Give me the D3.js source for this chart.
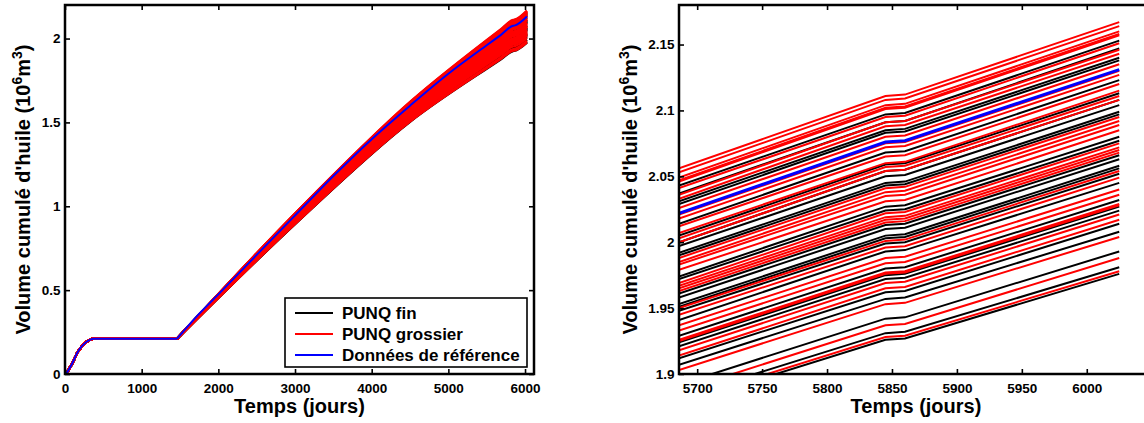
<!DOCTYPE html>
<html>
<head>
<meta charset="utf-8">
<script src="https://cdn.jsdelivr.net/npm/d3@7"></script>
<style>
  body { margin: 0; background: #fff; }
  svg { display: block; }
  text { font-family: "Liberation Sans", Arial, sans-serif; font-weight: bold; }
</style>
</head>
<body>
<div id="chart"></div>
<script>
// Shared start of every run (days, 10^6 m3)
var earlyTimes = [0, 30, 60, 90, 120, 150, 180, 210, 240, 270, 300, 330, 365, 1460];
var earlyVol = [0, 0.012, 0.035, 0.06, 0.088, 0.118, 0.142, 0.16, 0.175, 0.188, 0.198, 0.205, 0.21, 0.21];

// Reference data after the plateau
var refTimes = [1700, 2000, 2500, 3000, 3500, 4000, 4500, 5000, 5500, 5686, 5845, 5860, 6025];
var refVol = [0.335, 0.475, 0.71, 0.945, 1.18, 1.40, 1.60, 1.79, 1.96, 2.022, 2.076, 2.077, 2.131];

// Ensemble runs, values at these days
var runTimes = [3000, 4500, 5686, 5845, 5860, 6025];

var fineRuns = [
  [0.952, 1.614, 2.043, 2.097, 2.098, 2.153],
  [0.950, 1.610, 2.037, 2.091, 2.092, 2.147],
  [0.948, 1.606, 2.031, 2.085, 2.086, 2.140],
  [0.947, 1.604, 2.029, 2.083, 2.084, 2.138],
  [0.942, 1.595, 2.014, 2.068, 2.069, 2.123],
  [0.939, 1.589, 2.005, 2.059, 2.060, 2.113],
  [0.937, 1.586, 2.000, 2.054, 2.055, 2.108],
  [0.936, 1.583, 1.997, 2.050, 2.051, 2.104],
  [0.934, 1.580, 1.992, 2.045, 2.046, 2.099],
  [0.934, 1.579, 1.990, 2.043, 2.044, 2.097],
  [0.928, 1.568, 1.974, 2.027, 2.028, 2.080],
  [0.927, 1.567, 1.972, 2.024, 2.025, 2.077],
  [0.924, 1.560, 1.961, 2.013, 2.014, 2.066],
  [0.923, 1.558, 1.958, 2.010, 2.011, 2.063],
  [0.921, 1.555, 1.953, 2.005, 2.006, 2.058],
  [0.920, 1.554, 1.951, 2.003, 2.004, 2.056],
  [0.919, 1.551, 1.948, 1.999, 2.000, 2.052],
  [0.917, 1.547, 1.941, 1.993, 1.994, 2.045],
  [0.912, 1.539, 1.929, 1.980, 1.981, 2.032],
  [0.911, 1.536, 1.924, 1.975, 1.976, 2.027],
  [0.910, 1.534, 1.921, 1.972, 1.973, 2.024],
  [0.906, 1.527, 1.912, 1.962, 1.963, 2.014],
  [0.904, 1.524, 1.907, 1.957, 1.958, 2.008],
  [0.899, 1.514, 1.892, 1.942, 1.943, 1.993],
  [0.895, 1.507, 1.882, 1.931, 1.932, 1.981],
  [0.894, 1.504, 1.877, 1.926, 1.927, 1.976]
];

var coarseRuns = [
  [0.957, 1.622, 2.056, 2.111, 2.112, 2.167],
  [0.956, 1.620, 2.053, 2.108, 2.109, 2.164],
  [0.955, 1.618, 2.049, 2.104, 2.105, 2.160],
  [0.954, 1.617, 2.047, 2.102, 2.103, 2.158],
  [0.954, 1.616, 2.046, 2.101, 2.102, 2.157],
  [0.952, 1.612, 2.041, 2.095, 2.096, 2.151],
  [0.950, 1.609, 2.036, 2.091, 2.092, 2.146],
  [0.949, 1.607, 2.033, 2.088, 2.089, 2.143],
  [0.946, 1.602, 2.026, 2.080, 2.081, 2.135],
  [0.945, 1.599, 2.021, 2.075, 2.076, 2.130],
  [0.944, 1.598, 2.018, 2.072, 2.073, 2.127],
  [0.941, 1.593, 2.012, 2.065, 2.066, 2.120],
  [0.940, 1.590, 2.007, 2.060, 2.061, 2.115],
  [0.938, 1.588, 2.003, 2.057, 2.058, 2.111],
  [0.937, 1.586, 2.000, 2.054, 2.055, 2.108],
  [0.933, 1.578, 1.988, 2.041, 2.042, 2.095],
  [0.932, 1.576, 1.985, 2.038, 2.039, 2.092],
  [0.931, 1.574, 1.983, 2.035, 2.036, 2.089],
  [0.930, 1.571, 1.979, 2.031, 2.032, 2.085],
  [0.927, 1.565, 1.969, 2.022, 2.023, 2.075],
  [0.926, 1.563, 1.967, 2.019, 2.020, 2.072],
  [0.925, 1.562, 1.965, 2.017, 2.018, 2.070],
  [0.924, 1.561, 1.963, 2.015, 2.016, 2.068],
  [0.920, 1.552, 1.950, 2.001, 2.002, 2.054],
  [0.918, 1.549, 1.945, 1.996, 1.997, 2.049],
  [0.915, 1.544, 1.937, 1.988, 1.989, 2.040],
  [0.914, 1.541, 1.933, 1.984, 1.985, 2.036],
  [0.911, 1.537, 1.926, 1.977, 1.978, 2.029],
  [0.911, 1.536, 1.925, 1.976, 1.977, 2.028],
  [0.909, 1.532, 1.918, 1.969, 1.970, 2.021],
  [0.907, 1.529, 1.914, 1.965, 1.966, 2.017],
  [0.903, 1.521, 1.903, 1.953, 1.954, 2.004],
  [0.898, 1.511, 1.887, 1.937, 1.938, 1.988],
  [0.895, 1.505, 1.879, 1.928, 1.929, 1.978]
];

// Axes
var leftXTicks = [0, 1000, 2000, 3000, 4000, 5000, 6000];
var leftYTicks = [0, 0.5, 1, 1.5, 2];
var rightXTicks = [5700, 5750, 5800, 5850, 5900, 5950, 6000];
var rightYTicks = [1.9, 1.95, 2, 2.05, 2.1, 2.15];
var legendLabels = ["PUNQ fin", "PUNQ grossier", "Données de référence"];

var svgWidth = 1144;
var svgHeight = 423;

var svg = d3.select("#chart")
  .append("svg")
  .attr("width", svgWidth)
  .attr("height", svgHeight);

// point lists: plateau part and production part (from day 1460)
var earlyPoints = earlyTimes.map(function (t, i) { return [t, earlyVol[i]]; });
var startPoint = earlyPoints[earlyPoints.length - 1];
function runLate(run) {
  return [startPoint].concat(runTimes.map(function (t, i) { return [t, run[i]]; }));
}
var refLate = [startPoint].concat(refTimes.map(function (t, i) { return [t, refVol[i]]; }));

function drawPanel(p) {
  var x = d3.scaleLinear().domain(p.xDomain).range([p.left, p.right]);
  var y = d3.scaleLinear().domain(p.yDomain).range([p.bottom, p.top]);

  svg.append("clipPath").attr("id", p.id)
    .append("rect")
    .attr("x", p.left).attr("y", p.top)
    .attr("width", p.right - p.left).attr("height", p.bottom - p.top);

  var lineLin = d3.line().x(function (d) { return x(d[0]); }).y(function (d) { return y(d[1]); });
  var lineLate = d3.line().x(function (d) { return x(d[0]); }).y(function (d) { return y(d[1]); })
    .curve(p.smooth ? d3.curveMonotoneX : d3.curveLinear);
  function pathOf(late) { return lineLin(earlyPoints) + lineLate(late); }

  var g = svg.append("g").attr("clip-path", "url(#" + p.id + ")");

  g.selectAll(".fine").data(fineRuns).enter().append("path")
    .attr("d", function (d) { return pathOf(runLate(d)); })
    .attr("fill", "none").attr("stroke", "#000").attr("stroke-width", p.runWidth);

  g.selectAll(".coarse").data(coarseRuns).enter().append("path")
    .attr("d", function (d) { return pathOf(runLate(d)); })
    .attr("fill", "none").attr("stroke", "#ff0000").attr("stroke-width", p.runWidth);

  g.append("path")
    .attr("d", pathOf(refLate))
    .attr("fill", "none").attr("stroke", "#0000ff").attr("stroke-width", p.refWidth);

  var fmt = d3.format("~g");

  var bottom = svg.append("g")
    .attr("transform", "translate(0," + p.bottom + ")")
    .call(d3.axisBottom(x).tickValues(p.xTicks).tickSizeInner(-5).tickSizeOuter(0).tickPadding(9).tickFormat(fmt));
  var leftAx = svg.append("g")
    .attr("transform", "translate(" + p.left + ",0)")
    .call(d3.axisLeft(y).tickValues(p.yTicks).tickSizeInner(-5).tickSizeOuter(0).tickPadding(4.5).tickFormat(fmt));
  var topAx = svg.append("g")
    .attr("transform", "translate(0," + p.top + ")")
    .call(d3.axisTop(x).tickValues(p.xTicks).tickSizeInner(-5).tickSizeOuter(0).tickFormat(""));
  var rightAx = svg.append("g")
    .attr("transform", "translate(" + p.right + ",0)")
    .call(d3.axisRight(y).tickValues(p.yTicks).tickSizeInner(-5).tickSizeOuter(0).tickFormat(""));

  [bottom, leftAx, topAx, rightAx].forEach(function (a) {
    a.select(".domain").remove();
    a.selectAll("line").attr("stroke", "#000").attr("stroke-width", 1.6);
    a.selectAll("text")
      .attr("fill", "#000")
      .style("font-family", "'Liberation Sans', Arial, sans-serif")
      .style("font-weight", "bold")
      .style("font-size", "13.5px");
  });

  // box
  svg.append("rect")
    .attr("x", p.left).attr("y", p.top)
    .attr("width", p.right - p.left).attr("height", p.bottom - p.top)
    .attr("fill", "none").attr("stroke", "#000").attr("stroke-width", 2.5);

  // x label
  svg.append("text")
    .attr("x", (p.left + p.right) / 2)
    .attr("y", 413)
    .attr("text-anchor", "middle")
    .style("font-size", "20px")
    .text("Temps (jours)");

  // y label
  var yl = svg.append("text")
    .attr("transform", "translate(" + p.yLabelX + "," + ((p.top + p.bottom) / 2) + ") rotate(-90)")
    .attr("text-anchor", "middle")
    .style("font-size", "20px");
  yl.append("tspan").text("Volume cumulé d'huile (10");
  yl.append("tspan").attr("dy", -8).style("font-size", "14px").text("6");
  yl.append("tspan").attr("dy", 8).text("m");
  yl.append("tspan").attr("dy", -8).style("font-size", "14px").text("3");
  yl.append("tspan").attr("dy", 8).text(")");
}

drawPanel({
  id: "clipLeft", left: 65, right: 534, top: 5, bottom: 374,
  xDomain: [0, 6117], yDomain: [0, 2.2], smooth: true,
  xTicks: leftXTicks, yTicks: leftYTicks, yLabelX: 30, runWidth: 2.4, refWidth: 2
});

drawPanel({
  id: "clipRight", left: 679, right: 1153, top: 5, bottom: 374,
  xDomain: [5686, 6051], yDomain: [1.9, 2.18], smooth: false,
  xTicks: rightXTicks, yTicks: rightYTicks, yLabelX: 637, runWidth: 2, refWidth: 3
});

// legend
var legend = svg.append("g");
legend.append("rect")
  .attr("x", 285).attr("y", 298)
  .attr("width", 242).attr("height", 69)
  .attr("fill", "#fff").attr("stroke", "#000").attr("stroke-width", 1.6);

var legendColors = ["#000", "#ff0000", "#0000ff"];
legendLabels.forEach(function (label, i) {
  var cy = 313 + i * 21;
  legend.append("line")
    .attr("x1", 295).attr("x2", 333)
    .attr("y1", cy).attr("y2", cy)
    .attr("stroke", legendColors[i]).attr("stroke-width", 2);
  legend.append("text")
    .attr("x", 342).attr("y", cy)
    .attr("dy", "0.36em")
    .style("font-size", "17px")
    .text(label);
});
</script>
</body>
</html>
